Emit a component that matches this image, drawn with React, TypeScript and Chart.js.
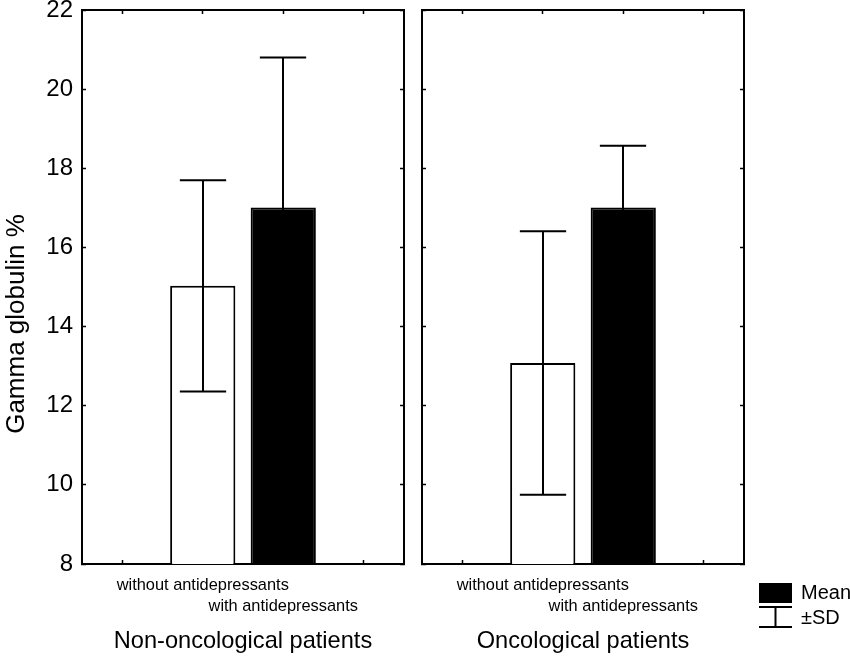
import React, { useEffect, useRef } from 'react';
import { Chart, registerables } from 'chart.js';

Chart.register(...registerables);

// ---- data ----
const categories: (string | string[])[] = ['', 'without antidepressants', ['', 'with antidepressants'], ''];
const groupTitles = ['Non-oncological patients', 'Oncological patients'];
const meanWithout = [15.03, 13.08];
const sdWithout = [2.67, 3.33];
const meanWith = [17.01, 17.01];
const sdWith = [3.79, 1.56];
const yMin = 8;
const yMax = 22;
const yStep = 2;
const yTitle = 'Gamma globulin %';
const legendLabels = ['Mean', '±SD'];
const barColors = ['#ffffff', '#000000'];

const FONT = '"Liberation Sans", Arial, sans-serif';
Chart.defaults.font.family = FONT;
Chart.defaults.color = '#000';

const errorBarPlugin = {
  id: 'errorBars',
  afterDatasetsDraw(chart: any) {
    const { ctx } = chart;
    const y = chart.scales.y;
    const meta = chart.getDatasetMeta(0);
    const ds = chart.data.datasets[0];
    ctx.save();
    ctx.strokeStyle = '#000';
    ctx.lineWidth = 2;
    meta.data.forEach((el: any, i: number) => {
      const m = ds.data[i];
      const sd = ds.sd[i];
      if (m == null || sd == null) return;
      const x = Math.round(el.x);
      const yt = y.getPixelForValue(m + sd);
      const yb = y.getPixelForValue(m - sd);
      const half = el.width * 0.355;
      ctx.beginPath();
      ctx.moveTo(x, yt);
      ctx.lineTo(x, yb);
      ctx.moveTo(x - half, yt);
      ctx.lineTo(x + half, yt);
      ctx.moveTo(x - half, yb);
      ctx.lineTo(x + half, yb);
      ctx.stroke();
    });
    ctx.restore();
  },
};

const yTitlePlugin = {
  id: 'yTitle',
  afterDraw(chart: any) {
    const { ctx, chartArea } = chart;
    ctx.save();
    ctx.translate(24, (chartArea.top + chartArea.bottom) / 2 + 37);
    ctx.rotate(-Math.PI / 2);
    ctx.font = `26px ${FONT}`;
    ctx.fillStyle = '#000';
    ctx.textAlign = 'center';
    ctx.textBaseline = 'alphabetic';
    ctx.fillText(yTitle, 0, 0);
    ctx.restore();
  },
};

const legendPlugin = {
  id: 'customLegend',
  afterDraw(chart: any) {
    const { ctx, chartArea } = chart;
    const x0 = chartArea.right + 15;
    const w = 33;
    const yTop = chartArea.bottom + 19;
    ctx.save();
    ctx.fillStyle = '#000';
    ctx.fillRect(x0, yTop, w, 20);
    ctx.strokeStyle = '#000';
    ctx.lineWidth = 2;
    ctx.beginPath();
    const y1 = yTop + 24;
    const y2 = yTop + 44;
    ctx.moveTo(x0, y1);
    ctx.lineTo(x0 + w, y1);
    ctx.moveTo(x0, y2);
    ctx.lineTo(x0 + w, y2);
    ctx.moveTo(x0 + w / 2, y1);
    ctx.lineTo(x0 + w / 2, y2);
    ctx.stroke();
    ctx.font = `20px ${FONT}`;
    ctx.textAlign = 'left';
    ctx.textBaseline = 'alphabetic';
    ctx.fillText(legendLabels[0], x0 + 42, yTop + 16);
    ctx.fillText(legendLabels[1], x0 + 42, yTop + 41);
    ctx.restore();
  },
};

function makeConfig(p: number): any {
  const tickGrid = {
    display: true,
    drawOnChartArea: false,
    drawTicks: true,
    tickLength: -4,
    tickColor: '#000',
    tickWidth: 1.5,
    color: '#000',
    offset: false,
  };
  const border = { display: true, color: '#000', width: 2 };
  const noPad = (s: any) => {
    s.paddingTop = 0;
    s.paddingBottom = 0;
    s.paddingLeft = 0;
    s.paddingRight = 0;
  };
  return {
    type: 'bar',
    data: {
      labels: categories,
      datasets: [
        {
          data: [null, meanWithout[p], meanWith[p], null],
          sd: [null, sdWithout[p], sdWith[p], null],
          backgroundColor: ['#fff', barColors[0], barColors[1], '#fff'],
          borderColor: '#000',
          borderWidth: 2,
          borderSkipped: 'start',
          barPercentage: 1,
          categoryPercentage: 0.81,
          xAxisID: 'x',
          yAxisID: 'y',
        },
      ],
    },
    options: {
      responsive: false,
      maintainAspectRatio: false,
      animation: false,
      devicePixelRatio: 1,
      layout: { padding: { left: 0, top: 10, right: p === 0 ? 9 : 106, bottom: 0 } },
      plugins: { legend: { display: false }, tooltip: { enabled: false } },
      scales: {
        x: {
          type: 'category',
          position: 'bottom',
          offset: true,
          grid: tickGrid,
          border,
          ticks: {
            autoSkip: false,
            maxRotation: 0,
            minRotation: 0,
            padding: 15,
            font: { size: 16.4, lineHeight: 1.28 },
            color: '#000',
          },
          title: {
            display: true,
            text: groupTitles[p],
            font: { size: 23.6 },
            color: '#000',
            padding: { top: 0, bottom: 3 },
          },
          afterFit: (s: any) => {
            s.height = 95;
            noPad(s);
          },
        },
        x2: {
          type: 'category',
          position: 'top',
          offset: true,
          grid: tickGrid,
          border,
          ticks: { display: false },
          afterFit: (s: any) => {
            s.height = 0;
            noPad(s);
          },
        },
        y: {
          type: 'linear',
          position: 'left',
          min: yMin,
          max: yMax,
          grid: tickGrid,
          border,
          ticks: {
            display: p === 0,
            stepSize: yStep,
            padding: 13,
            font: { size: 24 },
            color: '#000',
          },
          afterFit: (s: any) => {
            s.width = p === 0 ? 82 : 9;
            noPad(s);
          },
        },
        y2: {
          type: 'linear',
          position: 'right',
          min: yMin,
          max: yMax,
          grid: tickGrid,
          border,
          ticks: { display: false, stepSize: yStep },
          afterFit: (s: any) => {
            s.width = 0;
            noPad(s);
          },
        },
      },
    },
    plugins: p === 0 ? [errorBarPlugin, yTitlePlugin] : [errorBarPlugin, legendPlugin],
  };
}

function Panel({ p, left, width }: { p: number; left: number; width: number }) {
  const ref = useRef<HTMLCanvasElement>(null);
  useEffect(() => {
    if (!ref.current) return;
    const chart = new Chart(ref.current, makeConfig(p));
    return () => chart.destroy();
  }, [p]);
  return (
    <canvas
      ref={ref}
      width={width}
      height={659}
      style={{ position: 'absolute', left, top: 0, width, height: 659 }}
    />
  );
}

export default function App() {
  return (
    <div style={{ position: 'absolute', left: 0, top: 0, width: 850, height: 659, background: '#fff' }}>
      <Panel p={0} left={0} width={413} />
      <Panel p={1} left={413} width={437} />
    </div>
  );
}
